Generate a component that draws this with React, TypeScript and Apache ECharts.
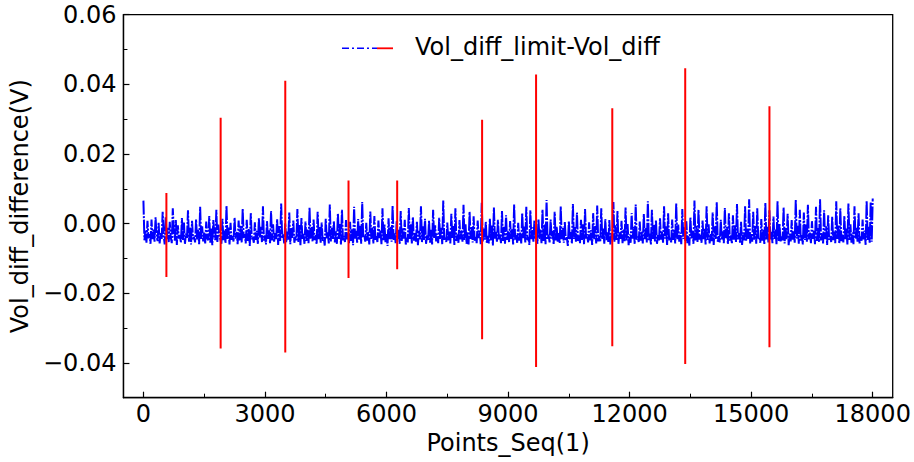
import React, { useEffect, useRef } from "react";
import * as echarts from "echarts";

// Noise trace (units of 0.1 mV), sampled every 25 points from 0 to 18000
const noiseStep = 25;
const noiseTenthMv = [
  66, -48, -20, -55, 8, -42, -30, -58, 12, -45,
  -15, -52, 18, -38, -50, 2, -57, -25, -44, 34,
  -35, -60, 20, -46, -12, -53, 5, -40, -56, 44,
  -22, -49, 10, -61, -5, -43, -33, -55, 16, -47,
  3, -58, -28, -41, 38, -52, -10, -60, 8, -45,
  -38, -54, 12, -46, -18, -59, 48, -44, -8, -51,
  -26, -57, 6, -42, -48, 22, -55, -14, -62, 10,
  -32, -47, 40, -53, -3, -40, -45, -58, 14, -49,
  -20, -56, 52, -44, -11, -60, 2, -46, -36, -52,
  17, -43, -24, -59, 9, -48, -6, -54, 42, -41,
  -30, -57, 11, -50, -16, -64, 30, -45, -40, -55,
  4, -47, -21, -58, 15, -42, -9, -53, 50, -49,
  -34, -60, 7, -44, -19, -56, 36, -48, -2, -52,
  -27, -45, 13, -61, -7, -50, 58, -43, -31, -57,
  1, -54, -23, -46, 32, -59, -13, -41, 9, -55,
  -37, -48, 42, -53, -4, -62, 16, -44, -29, -58,
  6, -50, -17, -56, 46, -43, -10, -52, 12, -47,
  -33, -59, 34, -45, -8, -55, 3, -49, -39, -63,
  14, -42, -25, -57, 55, -51, -12, -46, 8, -54,
  -22, -58, 30, -44, -1, -60, 40, -48, -35, -53,
  10, -45, -28, -56, 5, -50, -15, -62, 48, -43,
  -19, -55, 13, -47, -6, -58, 62, -41, -32, -52,
  2, -49, -24, -60, 35, -44, -11, -57, 22, -46,
  -36, -53, 9, -42, -20, -59, 44, -48, -3, -55,
  -30, -64, 15, -45, -9, -52, 52, -47, -26, -56,
  7, -44, -18, -58, 36, -50, -13, -43, 11, -60,
  -40, -54, 45, -46, -2, -57, 19, -49, -27, -52,
  5, -62, -21, -45, 50, -53, -8, -48, 14, -58,
  -34, -47, 8, -55, -16, -60, 40, -42, -5, -51,
  -29, -56, 17, -44, -12, -59, 66, -46, -38, -53,
  3, -48, -23, -57, 28, -43, -7, -61, 44, -50,
  -31, -55, 10, -45, -19, -52, 54, -47, -1, -58,
  -25, -60, 34, -44, -10, -54, 21, -49, -37, -56,
  9, -42, -20, -59, 60, -51, -14, -46, 6, -55,
  -35, -57, 14, -48, -4, -63, 46, -43, -24, -52,
  11, -45, -30, -56, 36, -50, -9, -58, 24, -47,
  -22, -53, 7, -44, -15, -60, 55, -46, -33, -55,
  2, -49, -26, -57, 30, -42, -6, -54, 48, -48,
  -38, -61, 38, -45, -11, -52, 9, -47, -28, -58,
  13, -44, -17, -56, 40, -50, -3, -59, 68, -46,
  -32, -54, 12, -43, -21, -60, 34, -48, -8, -53,
  -27, -57, 50, -45, -13, -55, 6, -49, -39, -64,
  8, -46, -24, -58, 56, -44, -10, -52, 32, -50,
  -34, -56, 11, -47, -2, -59, 42, -43, -30, -54,
  4, -48, -19, -61, 30, -45, -7, -57, 52, -51,
  -36, -53, 44, -44, -14, -58, 13, -49, -25, -55,
  10, -60, -28, -46, 62, -52, -5, -47, 36, -58,
  -23, -44, 8, -56, -17, -51, 46, -48, -1, -62,
  -31, -55, 30, -43, -9, -59, 55, -46, -37, -53,
  6, -49, -21, -57, 28, -45, -12, -54, 64, -47,
  -29, -60, 40, -44, -4, -52, 10, -58, -33, -50,
  15, -46, -24, -55, 50, -43, -8, -61, 30, -48,
  -38, -54, 12, -47, -16, -57, 58, -45, -3, -52,
  -26, -59, 42, -44, -11, -50, 7, -56, -35, -63,
  18, -43, -20, -58, 66, -48, -6, -53, 40, -46,
  -32, -55, 9, -45, -13, -60, 50, -47, -2, -57,
  -28, -50, 32, -61, -8, -44, 62, -52, -36, -54,
  11, -47, -22, -56, 45, -42, -10, -59, 30, -49,
  -34, -58, 24, -46, -5, -53, 56, -45, -27, -55,
  5, -61, -25, -48, 50, -51, -14, -44, 70, -57,
  -30, -52, 34, -46, -7, -58, 44, -43, -39, -55,
  13, -49, -18, -60, 60, -47, -9, -54, 38, -45,
  -24, -56, 20, -44, -15, -59, 64, -50, -1, -53,
  -37, -48, 46, -57, -12, -45, 28, -62, -29, -51,
  10, -46, -21, -55, 68, -43, -6, -58, 40, -49,
  -33, -60, 32, -47, -3, -52, 54, -45, -26, -56,
  7, -44, -19, -59, 48, -50, -11, -54, 70, -48,
  -28, -57, 38, -45, -8, -61, 24, -46, -35, -53,
  20, -48, -23, -56, 64, -44, -4, -58, 44, -50,
  -31, -54, 22, -46, -14, -60, 58, -47, -2, -55,
  -25, -59, 50, -43, -10, -52, 30, -57, -37, -49,
  12, -45, -20, -61, 66, -47, -7, -55, 62, -52,
  72,
];

// Red limit spikes
const spikeX = [567, 1906, 3501, 5062, 6263, 8359, 9691, 11572, 13372, 15451];
const spikeTop = [0.0088, 0.0304, 0.041, 0.0124, 0.0124, 0.0298, 0.0428, 0.0331, 0.0446, 0.0337];
const spikeBottom = [-0.0153, -0.0359, -0.037, -0.0156, -0.0131, -0.0332, -0.0412, -0.0352, -0.0403, -0.0355];

const xMajorTicks = [0, 3000, 6000, 9000, 12000, 15000, 18000];
const xMinorTicks = [1500, 4500, 7500, 10500, 13500, 16500];
const yMajorTicks = [-0.04, -0.02, 0, 0.02, 0.04, 0.06];
const yMinorTicks = [-0.03, -0.01, 0.01, 0.03, 0.05];

const legendLabel = "Vol_diff_limit-Vol_diff";
const xName = "Points_Seq(1)";
const yName = "Vol_diff_difference(V)";

const FONT = "DejaVu Sans";
const FS = 24;

export default function App() {
  const ref = useRef<HTMLDivElement>(null);

  useEffect(() => {
    if (!ref.current) return;
    const chart = echarts.init(ref.current, null, { renderer: "svg" });

    const noiseData = noiseTenthMv.map((v, i) => [i * noiseStep, v / 10000]);

    const spikeSeries = spikeX.map((x, i) => ({
      type: "line",
      xAxisIndex: 0,
      yAxisIndex: 0,
      data: [
        [x, spikeTop[i]],
        [x, spikeBottom[i]],
      ],
      symbol: "none",
      lineStyle: { color: "#ff0000", width: 2 },
      z: 5,
      silent: true,
    }));

    const fmtY = (v: number) => {
      const s = Math.abs(v).toFixed(2);
      return v < -1e-9 ? "\u2212" + s : s;
    };

    const xBase = {
      type: "value",
      min: -493,
      max: 18493,
      gridIndex: 0,
      position: "bottom",
      splitLine: { show: false },
    };
    const yBase = {
      type: "value",
      min: -0.05,
      max: 0.06,
      gridIndex: 0,
      position: "left",
      splitLine: { show: false },
    };

    chart.setOption({
      animation: false,
      grid: {
        left: 122.7,
        top: 14.7,
        right: 21.3,
        bottom: 64.3,
        show: true,
        borderColor: "#000",
        borderWidth: 1.3,
        backgroundColor: "transparent",
      },
      xAxis: [
        {
          ...xBase,
          name: xName,
          nameLocation: "middle",
          nameGap: 31,
          nameTextStyle: { fontFamily: FONT, fontSize: FS, color: "#000" },
          axisLine: { show: true, onZero: false, lineStyle: { color: "#000", width: 1.3 } },
          axisTick: {
            show: true,
            inside: true,
            length: 6,
            customValues: xMajorTicks,
            lineStyle: { color: "#000", width: 1.2 },
          },
          axisLabel: {
            show: true,
            customValues: xMajorTicks,
            margin: 4,
            fontFamily: FONT,
            fontSize: FS,
            color: "#000",
            formatter: (v: number) => String(Math.round(v)),
          },
        },
        {
          ...xBase,
          axisLine: { show: false, onZero: false },
          axisLabel: { show: false },
          axisTick: {
            show: true,
            inside: true,
            length: 4,
            customValues: xMinorTicks,
            lineStyle: { color: "#000", width: 1 },
          },
        },
      ],
      yAxis: [
        {
          ...yBase,
          name: yName,
          nameLocation: "middle",
          nameGap: 90,
          nameTextStyle: { fontFamily: FONT, fontSize: FS, color: "#000" },
          axisLine: { show: true, onZero: false, lineStyle: { color: "#000", width: 1.3 } },
          axisTick: {
            show: true,
            inside: true,
            length: 6,
            customValues: yMajorTicks,
            lineStyle: { color: "#000", width: 1.2 },
          },
          axisLabel: {
            show: true,
            customValues: yMajorTicks,
            margin: 7,
            fontFamily: FONT,
            fontSize: FS,
            color: "#000",
            formatter: fmtY,
          },
        },
        {
          ...yBase,
          axisLine: { show: false, onZero: false },
          axisLabel: { show: false },
          axisTick: {
            show: true,
            inside: true,
            length: 4,
            customValues: yMinorTicks,
            lineStyle: { color: "#000", width: 1 },
          },
        },
      ],
      series: [
        {
          type: "line",
          name: legendLabel,
          xAxisIndex: 0,
          yAxisIndex: 0,
          data: noiseData,
          symbol: "none",
          lineStyle: { color: "#0000ff", width: 2, type: [14, 1.5, 2, 1.5] },
          z: 3,
          silent: true,
        },
        ...spikeSeries,
      ],
      graphic: [
        {
          type: "line",
          shape: { x1: 342, y1: 48.3, x2: 377, y2: 48.3 },
          style: { stroke: "#0000ff", lineWidth: 1.6, lineDash: [7, 3, 2, 3] },
          silent: true,
        },
        {
          type: "line",
          shape: { x1: 377, y1: 48.3, x2: 393, y2: 48.3 },
          style: { stroke: "#ff0000", lineWidth: 1.8 },
          silent: true,
        },
        {
          type: "text",
          x: 415,
          y: 47,
          style: {
            text: legendLabel,
            fontFamily: FONT,
            fontSize: FS,
            fill: "#000",
            verticalAlign: "middle",
            align: "left",
          },
          silent: true,
        },
      ],
    });

    return () => chart.dispose();
  }, []);

  return (
    <div
      ref={ref}
      style={{ position: "fixed", left: 0, top: 0, width: 914, height: 462, background: "#fff" }}
    />
  );
}
